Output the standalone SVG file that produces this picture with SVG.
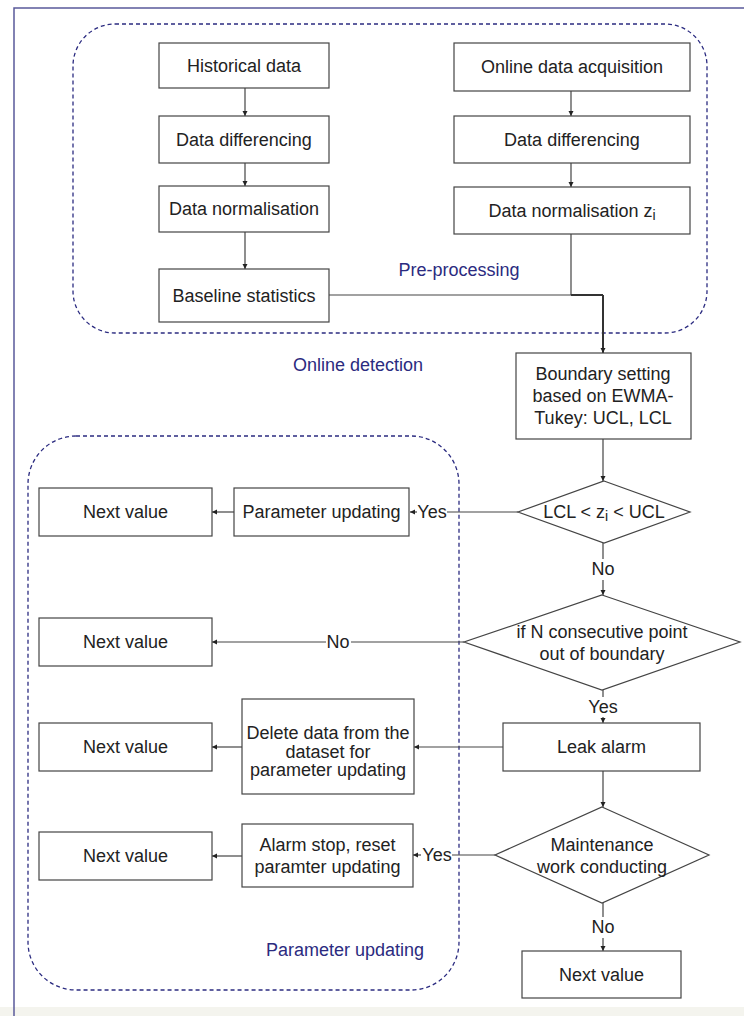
<svg xmlns="http://www.w3.org/2000/svg" width="744" height="1016" viewBox="0 0 744 1016">
<defs>
<style>
.box{fill:#fff;stroke:#444;stroke-width:1.2}
.t{font-family:"Liberation Sans",Arial,sans-serif;font-size:18px;fill:#222;text-anchor:middle;dominant-baseline:central}
.lbl{font-family:"Liberation Sans",Arial,sans-serif;font-size:18px;fill:#2b2b80;text-anchor:middle;dominant-baseline:central}
.grp{fill:none;stroke:#2b2b80;stroke-width:1.3;stroke-dasharray:4 3}
.c{fill:none;stroke:#444;stroke-width:1.2}
.ca{fill:none;stroke:#444;stroke-width:1.2;marker-end:url(#ah)}
</style>
<marker id="ah" markerWidth="6" markerHeight="6" refX="5" refY="3" orient="auto" markerUnits="userSpaceOnUse">
<path d="M0,0.5 L5,3 L0,5.5 Z" fill="#222"/>
</marker>
</defs>
<rect x="0" y="0" width="744" height="1016" fill="#fff"/>
<rect x="0" y="1007" width="744" height="9" fill="#f4f4ee"/>
<path d="M14,1016 L14,8 L744,8" fill="none" stroke="#5a5a9a" stroke-width="1.5"/>

<g id="groups">
<rect class="grp" x="73" y="24" width="634" height="309" rx="42"/>
<rect class="grp" x="28" y="436" width="431" height="554" rx="48"/>
<text class="lbl" x="459" y="270">Pre-processing</text>
<text class="lbl" x="358" y="365">Online detection</text>
<text class="lbl" x="345" y="950">Parameter updating</text>
</g>

<g id="connectors">
<line class="ca" x1="245" y1="88" x2="245" y2="116"/>
<line class="ca" x1="245" y1="163" x2="245" y2="186"/>
<line class="ca" x1="245" y1="232" x2="245" y2="269"/>
<line class="ca" x1="571" y1="91" x2="571" y2="116"/>
<line class="ca" x1="571" y1="163" x2="571" y2="187"/>
<polyline class="c" points="571,234 571,295"/>
<line class="c" x1="329" y1="295" x2="603" y2="295"/>
<line x1="571" y1="295" x2="603" y2="295" stroke="#333" stroke-width="2"/>
<line x1="603" y1="295" x2="603" y2="353" stroke="#333" stroke-width="2" marker-end="url(#ah)"/>
<line class="ca" x1="603" y1="439" x2="603" y2="481"/>
<line class="c" x1="518" y1="512" x2="447" y2="512"/>
<text class="t" x="432" y="512">Yes</text>
<line class="ca" x1="417" y1="512" x2="410" y2="512"/>
<line class="ca" x1="234" y1="512" x2="212" y2="512"/>
<line class="c" x1="603" y1="543" x2="603" y2="559"/>
<text class="t" x="603" y="569">No</text>
<line class="ca" x1="603" y1="580" x2="603" y2="595"/>
<line class="c" x1="464" y1="642" x2="351" y2="642"/>
<text class="t" x="338" y="642">No</text>
<line class="ca" x1="326" y1="642" x2="212" y2="642"/>
<line class="c" x1="603" y1="690" x2="603" y2="697"/>
<text class="t" x="603" y="707">Yes</text>
<line class="ca" x1="603" y1="717" x2="603" y2="723"/>
<line class="ca" x1="503" y1="747" x2="414" y2="747"/>
<line class="ca" x1="242" y1="747" x2="212" y2="747"/>
<line class="ca" x1="603" y1="771" x2="603" y2="807"/>
<line class="c" x1="495" y1="855" x2="452" y2="855"/>
<text class="t" x="437" y="855">Yes</text>
<line class="ca" x1="421" y1="855" x2="413" y2="855"/>
<line class="ca" x1="242" y1="856" x2="212" y2="856"/>
<line class="c" x1="603" y1="903" x2="603" y2="917"/>
<text class="t" x="603" y="927">No</text>
<line class="ca" x1="603" y1="938" x2="603" y2="951"/>
</g>

<g id="n-hist"><rect class="box" x="159" y="43" width="170" height="45"/><text class="t" x="244" y="65.5">Historical data</text></g>
<g id="n-diff1"><rect class="box" x="159" y="116" width="170" height="47"/><text class="t" x="244" y="139.5">Data differencing</text></g>
<g id="n-norm1"><rect class="box" x="159" y="186" width="170" height="46"/><text class="t" x="244" y="209">Data normalisation</text></g>
<g id="n-base"><rect class="box" x="159" y="269" width="170" height="53"/><text class="t" x="244" y="295.5">Baseline statistics</text></g>
<g id="n-online"><rect class="box" x="454" y="43" width="236" height="48"/><text class="t" x="572" y="67">Online data acquisition</text></g>
<g id="n-diff2"><rect class="box" x="454" y="116" width="236" height="47"/><text class="t" x="572" y="139.5">Data differencing</text></g>
<g id="n-norm2"><rect class="box" x="454" y="187" width="236" height="47"/><text class="t" x="572" y="210.5">Data normalisation z<tspan font-size="14" dy="4">i</tspan></text></g>
<g id="n-bound"><rect class="box" x="516" y="353" width="175" height="86"/><text class="t" x="603" y="374">Boundary setting</text><text class="t" x="603" y="396">based on EWMA-</text><text class="t" x="603" y="418">Tukey: UCL, LCL</text></g>
<g id="n-d1"><polygon class="box" points="604,481 690,512 604,543 518,512"/><text class="t" x="604" y="512">LCL &lt; z<tspan font-size="14" dy="4">i</tspan><tspan dy="-4"> &lt; UCL</tspan></text></g>
<g id="n-param"><rect class="box" x="234" y="488" width="175" height="48"/><text class="t" x="321.5" y="512">Parameter updating</text></g>
<g id="n-next1"><rect class="box" x="39" y="488" width="173" height="48"/><text class="t" x="125.5" y="512">Next value</text></g>
<g id="n-d2"><polygon class="box" points="602,595 740,642 602,690 464,642"/><text class="t" x="602" y="632">if N consecutive point</text><text class="t" x="602" y="654">out of boundary</text></g>
<g id="n-next2"><rect class="box" x="39" y="618" width="173" height="48"/><text class="t" x="125.5" y="642">Next value</text></g>
<g id="n-leak"><rect class="box" x="503" y="723" width="197" height="48"/><text class="t" x="601.5" y="747">Leak alarm</text></g>
<g id="n-delete"><rect class="box" x="242" y="699" width="172" height="95"/><text class="t" x="328" y="733">Delete data from the</text><text class="t" x="328" y="752">dataset for</text><text class="t" x="328" y="770">parameter updating</text></g>
<g id="n-next3"><rect class="box" x="39" y="723" width="173" height="48"/><text class="t" x="125.5" y="747">Next value</text></g>
<g id="n-d3"><polygon class="box" points="602,807 709,855 602,903 495,855"/><text class="t" x="602" y="845">Maintenance</text><text class="t" x="602" y="867">work conducting</text></g>
<g id="n-stop"><rect class="box" x="242" y="824" width="171" height="63"/><text class="t" x="327.5" y="845">Alarm stop, reset</text><text class="t" x="327.5" y="867">paramter updating</text></g>
<g id="n-next4"><rect class="box" x="39" y="832" width="173" height="48"/><text class="t" x="125.5" y="856">Next value</text></g>
<g id="n-next5"><rect class="box" x="522" y="951" width="159" height="47"/><text class="t" x="601.5" y="974.5">Next value</text></g>
</svg>
